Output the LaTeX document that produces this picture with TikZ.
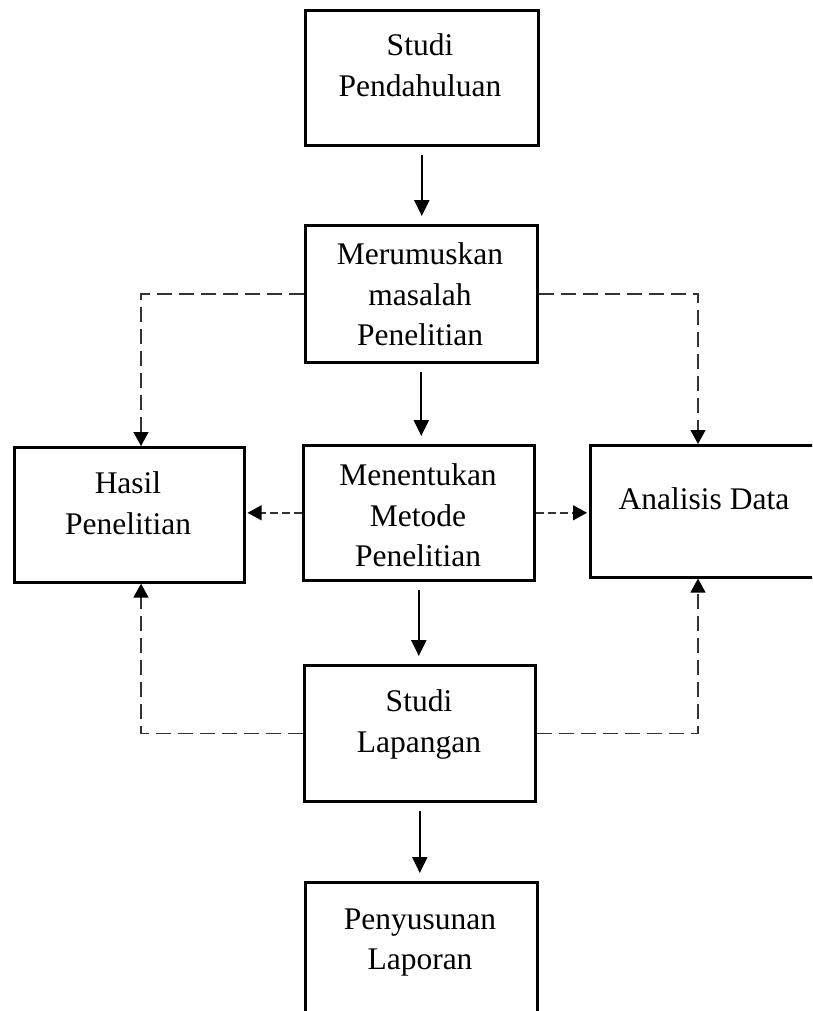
\documentclass[tikz,border=0pt]{standalone}
\usepackage{fontspec}
\setmainfont{Liberation Serif}
\usetikzlibrary{arrows.meta,calc}
\begin{document}
\begin{tikzpicture}[x=1pt,y=-1pt,
  box/.style={draw, line width=2.6pt, inner sep=0pt, anchor=north west},
  txt/.style={align=center, inner sep=0pt, anchor=north, font=\fontsize{31.5}{40.5}\selectfont},
  arr/.style={line width=2.2pt, -{Triangle[length=16pt,width=15pt]}, shorten <=8pt, shorten >=8pt},
  dlong/.style={line width=1.4pt, black!80, dash pattern=on 15pt off 7pt, -{Triangle[length=14pt,width=15pt,fill=black,color=black]}},
  dshort/.style={line width=1.4pt, black!80, dash pattern=on 8pt off 4pt, -{Triangle[length=14pt,width=15pt,fill=black,color=black]}, shorten >=2pt}]
\useasboundingbox (0,0) rectangle (812,1011);
\clip (0,0) rectangle (812,1011);
% boxes
\node[box, minimum width=233pt, minimum height=135pt] (sp) at (304,9) {};
\node[box, minimum width=232pt, minimum height=137pt] (mm) at (304,224) {};
\node[box, minimum width=231pt, minimum height=135pt] (mt) at (302,444) {};
\node[box, minimum width=231pt, minimum height=136pt] (sl) at (303,664) {};
\node[box, minimum width=232pt, minimum height=160pt] (pl) at (304,881) {};
\node[box, minimum width=230pt, minimum height=135pt] (hp) at (13,446) {};
\node[box, minimum width=232pt, minimum height=132pt] (ad) at (589,444) {};
% texts
\node[txt] (tsp) at (420,33.5) {Studi\\Pendahuluan};
\node[txt] (tmm) at (420,242.5) {Merumuskan\\masalah\\Penelitian};
\node[txt] (tmt) at (418,463.5) {Menentukan\\Metode\\Penelitian};
\node[txt] (tsl) at (419,689.5) {Studi\\Lapangan};
\node[txt] (tpl) at (420,908.5) {Penyusunan\\Laporan};
\node[txt] (thp) at (128,471.5) {Hasil\\Penelitian};
\node[txt] (tad) at (704,487.5) {Analisis Data};
% solid arrows
\draw[arr] (sp.south) -- (sp.south |- mm.north);
\draw[arr] (mm.south) -- (mm.south |- mt.north);
\draw[arr] (mt.south) -- (mt.south |- sl.north);
\draw[arr] (sl.south) -- (sl.south |- pl.north);
% dashed connectors
\coordinate (lc) at (141,0);
\coordinate (rc) at (698,0);
\draw[dlong] (mm.west) -| (lc |- hp.north);
\draw[dlong] (mm.east) -| (rc |- ad.north);
\draw[dlong] (sl.west) -| (lc |- hp.south);
\draw[dlong] (sl.east) -| (rc |- ad.south);
\draw[dshort] (mt.west) -- (mt.west -| hp.east);
\draw[dshort] (mt.east) -- (mt.east -| ad.west);
\end{tikzpicture}
\end{document}
